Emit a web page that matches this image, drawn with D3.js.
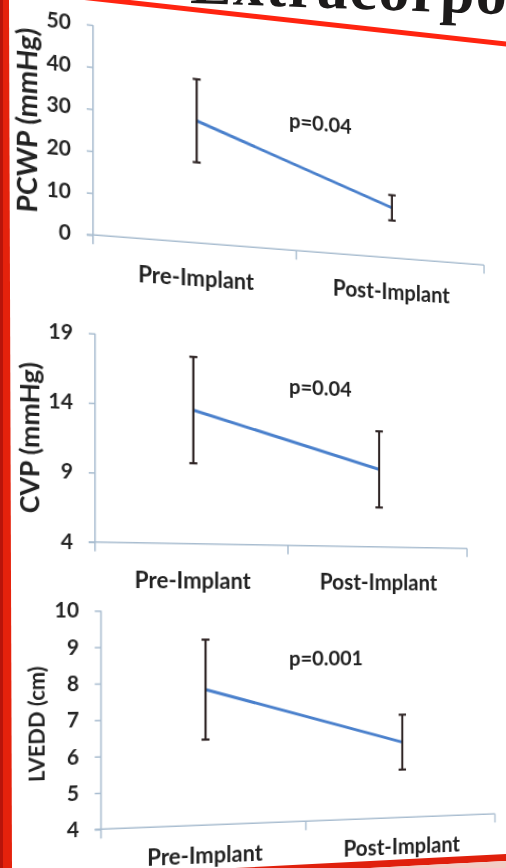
<!DOCTYPE html>
<html>
<head>
<meta charset="utf-8">
<script src="https://cdn.jsdelivr.net/npm/d3@7"></script>
<style>
html, body { margin: 0; padding: 0; background: #fff; width: 506px; height: 868px; overflow: hidden; }
#slide { position: absolute; left: 0; top: 0; transform-origin: 253px 630px; transform: perspective(1000px) rotateY(11.4deg); }
#frame { position: absolute; left: 0; top: 0; }
</style>
</head>
<body>
<svg id="slide" width="540" height="868"></svg>
<svg id="frame" width="506" height="868"></svg>
<script>
// ---- values ----
var categories = ["Pre-Implant", "Post-Implant"];

var pcwpMean = [29.7, 12.7];
var pcwpErr = [10.1, 3.2];
var pcwpTicks = [0, 10, 20, 30, 40, 50];

var cvpMean = [13.8, 9.9];
var cvpErr = [3.9, 2.9];
var cvpTicks = [4, 9, 14, 19];

var lveddMean = [7.8, 6.2];
var lveddErr = [1.4, 0.8];
var lveddTicks = [4, 5, 6, 7, 8, 9, 10];

var yTitles = ["PCWP (mmHg)", "CVP (mmHg)", "LVEDD (cm)"];
var pLabels = ["p=0.04", "p=0.04", "p=0.001"];

// ---- the slide was photographed at an angle: same numbers as the css transform above ----
var PERSP = 1000, ANG = 11.4 * Math.PI / 180, OX = 253, OY = 630;

// photo position -> flat slide position
function unproject(px, py) {
    var u = px - OX;
    var X = u * PERSP / (PERSP * Math.cos(ANG) - u * Math.sin(ANG));
    var s = PERSP / (PERSP + X * Math.sin(ANG));
    return [OX + X, OY + (py - OY) / s];
}

var axisColor = "#a9bdd0";
var font = "Lato, 'Open Sans', sans-serif";

// where each little chart sits in the photo
var panels = [
    {mean: pcwpMean, err: pcwpErr, ticks: pcwpTicks, title: yTitles[0], p: pLabels[0],
     axisX: 93, baseY: 235, topY: 25, rightX: 484, labelGap: 43,
     titleX: 37, titleY: 121, titleSize: 26.5, pX: 289, pY: 128},
    {mean: cvpMean, err: cvpErr, ticks: cvpTicks, title: yTitles[1], p: pLabels[1],
     axisX: 95, baseY: 542, topY: 333.5, rightX: 467, labelGap: 44,
     titleX: 39, titleY: 438, titleSize: 25.5, pX: 289, pY: 394},
    {mean: lveddMean, err: lveddErr, ticks: lveddTicks, title: yTitles[2], p: pLabels[2],
     axisX: 101, baseY: 829.3, topY: 610.7, rightX: 495, labelGap: 38,
     titleX: 45, titleY: 724, titleSize: 21, pX: 289, pY: 666}
];

var svg = d3.select("#slide");

function drawPanel(p) {
    var g = svg.append("g");
    var a = unproject(p.axisX, p.baseY);
    var b = unproject(p.axisX, p.topY);
    var c = unproject(p.rightX, p.baseY);

    var x = d3.scaleBand().domain(categories).range([a[0], c[0]]);
    var y = d3.scaleLinear().domain(d3.extent(p.ticks)).range([a[1], b[1]]);

    //y axis with outward ticks
    var yAxis = g.append("g")
        .attr("transform", "translate(" + a[0] + ",0)")
        .call(d3.axisLeft(y).tickValues(p.ticks).tickFormat(d3.format("d"))
            .tickSize(6).tickSizeOuter(0).tickPadding(15));
    yAxis.attr("font-family", font);
    yAxis.select(".domain").remove();
    yAxis.selectAll("line").attr("stroke", axisColor).attr("stroke-width", 1.5);
    yAxis.selectAll("text")
        .attr("font-size", 20)
        .attr("font-weight", "bold")
        .attr("fill", "#262626");

    g.append("line")
        .attr("x1", a[0]).attr("x2", a[0])
        .attr("y1", b[1]).attr("y2", a[1] + 9)
        .attr("stroke", axisColor).attr("stroke-width", 1.5);

    //category axis
    var xAxis = g.append("g")
        .attr("transform", "translate(0," + a[1] + ")")
        .call(d3.axisBottom(x).tickSize(0));
    xAxis.attr("font-family", font);
    xAxis.select(".domain").remove();
    xAxis.selectAll("text")
        .attr("y", p.labelGap)
        .attr("dy", 0)
        .attr("font-size", 22)
        .attr("font-weight", "bold")
        .attr("fill", "#222");

    g.append("line")
        .attr("x1", a[0] - 6).attr("x2", c[0])
        .attr("y1", a[1]).attr("y2", a[1])
        .attr("stroke", axisColor).attr("stroke-width", 1.5);

    g.selectAll(".bound").data(categories).enter().append("line")
        .attr("x1", d => x(d) + x.bandwidth()).attr("x2", d => x(d) + x.bandwidth())
        .attr("y1", a[1]).attr("y2", a[1] + 9)
        .attr("stroke", axisColor).attr("stroke-width", 1.5);

    var pts = categories.map(function (cat, i) {
        return {cat: cat, m: p.mean[i], e: p.err[i]};
    });
    var cx = d => x(d.cat) + x.bandwidth() / 2;

    g.append("path").datum(pts)
        .attr("d", d3.line().x(cx).y(d => y(d.m)))
        .attr("fill", "none")
        .attr("stroke", "#4a80cc")
        .attr("stroke-width", 3);

    var bars = g.selectAll(".err").data(pts).enter().append("g")
        .attr("stroke", "#2e2424").attr("stroke-width", 2.2);
    bars.append("line")
        .attr("x1", cx).attr("x2", cx)
        .attr("y1", d => y(d.m - d.e)).attr("y2", d => y(d.m + d.e));
    bars.append("line")
        .attr("x1", d => cx(d) - 4).attr("x2", d => cx(d) + 4)
        .attr("y1", d => y(d.m + d.e)).attr("y2", d => y(d.m + d.e));
    bars.append("line")
        .attr("x1", d => cx(d) - 4).attr("x2", d => cx(d) + 4)
        .attr("y1", d => y(d.m - d.e)).attr("y2", d => y(d.m - d.e));

    var pp = unproject(p.pX, p.pY);
    g.append("text")
        .attr("x", pp[0]).attr("y", pp[1])
        .attr("font-family", font)
        .attr("font-size", 21)
        .attr("font-weight", "bold")
        .attr("fill", "#222")
        .text(p.p);

    var tt = unproject(p.titleX, p.titleY);
    g.append("text")
        .attr("transform", "translate(" + tt[0] + "," + tt[1] + ") rotate(-90)")
        .attr("text-anchor", "middle")
        .attr("font-family", font)
        .attr("font-size", p.titleSize)
        .attr("font-weight", "bold")
        .attr("fill", "#222")
        .text(p.title);
}

panels.forEach(drawPanel);

// ---- slide frame bits, drawn straight in photo coordinates ----
var frame = d3.select("#frame");

frame.append("text")
    .attr("x", 190).attr("y", 3)
    .attr("transform", "rotate(2,190,3)")
    .attr("font-family", "'Liberation Serif', serif")
    .attr("font-weight", "bold")
    .attr("font-size", 62)
    .attr("letter-spacing", 1.5)
    .attr("fill", "#1c1a1a")
    .text("Extracorporeal");

frame.append("line")
    .attr("x1", 80).attr("y1", -3)
    .attr("x2", 510).attr("y2", 44.5)
    .attr("stroke", "#ff2410").attr("stroke-width", 5);

frame.append("polygon")
    .attr("points", "0,0 9,0 12,868 0,868")
    .attr("fill", "#e5220c");
frame.append("rect")
    .attr("x", 0).attr("y", 0).attr("width", 3).attr("height", 868)
    .attr("fill", "#b8140a");

frame.append("polygon")
    .attr("points", "235,868 506,854 506,861 370,868")
    .attr("fill", "#e0200c");
frame.append("polygon")
    .attr("points", "370,868 506,861 506,868")
    .attr("fill", "#f2cdc6");
</script>
</body>
</html>
